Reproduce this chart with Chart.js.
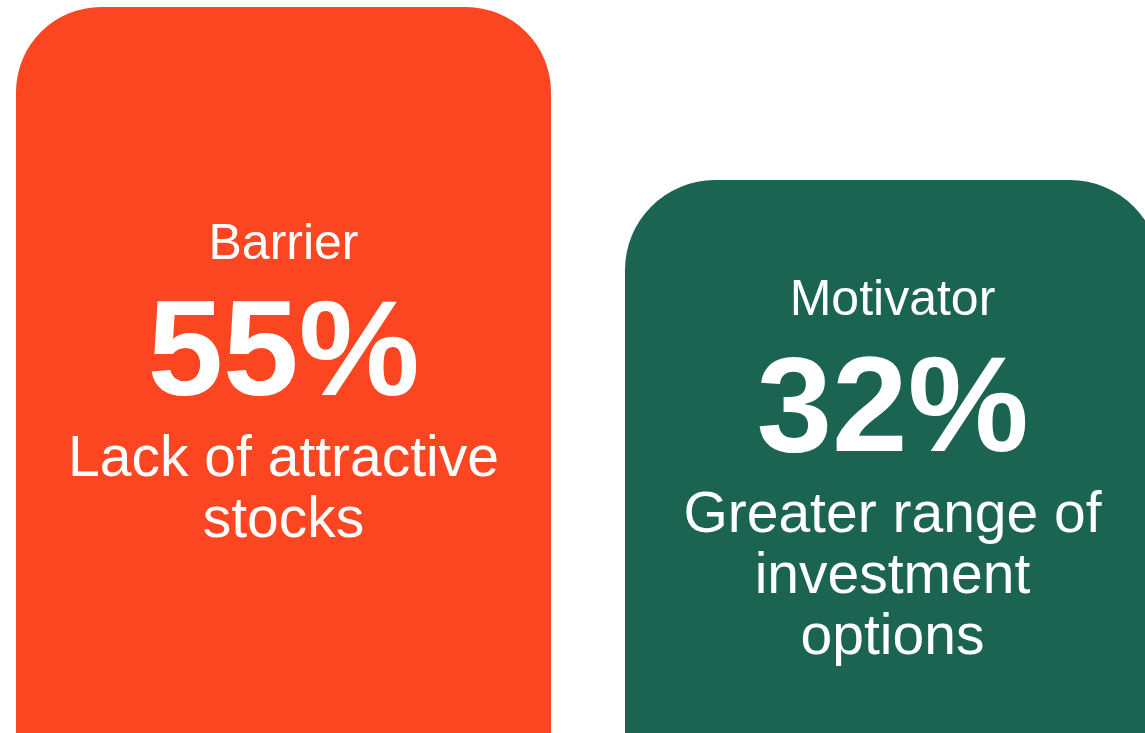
<!DOCTYPE html>
<html>
<head>
<meta charset="utf-8">
<script src="https://cdn.jsdelivr.net/npm/chart.js"></script>
<style>
  html, body { margin: 0; padding: 0; background: #ffffff; overflow: hidden; }
  body { width: 1145px; height: 733px; position: relative; }
  /* canvas is a bit wider than the page so the second card runs off the right edge */
  #wrap { position: absolute; left: -21px; top: 0; width: 1218px; height: 733px; }
</style>
</head>
<body>
<div id="wrap"><canvas id="cards"></canvas></div>
<script>
// chart data
var categories = ['Barrier', 'Motivator'];
var percentValues = [55, 32];
var descriptions = [
    ['Lack of attractive', 'stocks'],
    ['Greater range of', 'investment', 'options']
];
var barColors = ['#FC4622', '#1B6451'];

// draws the texts inside each card
var cardText = {
    id: 'cardText',
    afterDatasetsDraw: function (chart) {
        var ctx = chart.ctx;
        var meta = chart.getDatasetMeta(0);
        var bottom = chart.chartArea.bottom;
        ctx.save();
        ctx.fillStyle = '#ffffff';
        ctx.textAlign = 'center';
        ctx.textBaseline = 'alphabetic';
        meta.data.forEach(function (bar, i) {
            var lines = descriptions[i];
            var blockH = 34 + 217 + 61 * (lines.length - 1) + 12;
            var mid = (bar.y + bottom) / 2 + 17;
            var base = mid - blockH / 2 + 34;

            ctx.font = '50px "Liberation Sans", Arial, sans-serif';
            ctx.fillText(categories[i], bar.x, base);

            ctx.font = 'bold 136px "Liberation Sans", Arial, sans-serif';
            ctx.fillText(percentValues[i] + '%', bar.x, base + 136);

            ctx.font = '57px "Liberation Sans", Arial, sans-serif';
            lines.forEach(function (txt, j) {
                ctx.fillText(txt, bar.x, base + 217 + 61 * j);
            });
        });
        ctx.restore();
    }
};

new Chart(document.getElementById('cards').getContext('2d'), {
    type: 'bar',
    data: {
        labels: categories,
        datasets: [{
            data: percentValues,
            base: -60,
            backgroundColor: barColors,
            borderWidth: 0,
            borderSkipped: false,
            borderRadius: [
                { topLeft: 85, topRight: 85, bottomLeft: 0, bottomRight: 0 },
                { topLeft: 90, topRight: 90, bottomLeft: 0, bottomRight: 0 }
            ],
            barPercentage: 1,
            categoryPercentage: 0.8785
        }]
    },
    options: {
        responsive: true,
        maintainAspectRatio: false,
        animation: false,
        layout: { padding: 0 },
        plugins: {
            legend: { display: false },
            tooltip: { enabled: false },
            title: { display: false }
        },
        scales: {
            x: { display: false, offset: true },
            y: { display: false, min: -41.5, max: 55.93 }
        }
    },
    plugins: [cardText]
});
</script>
</body>
</html>
